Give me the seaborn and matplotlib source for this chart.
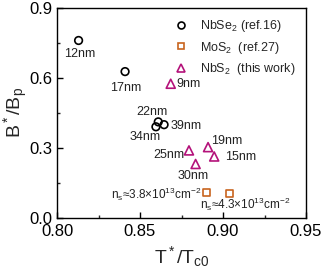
import matplotlib
matplotlib.use("Agg")
import matplotlib.pyplot as plt
import seaborn as sns
import pandas as pd
from matplotlib.lines import Line2D
from matplotlib.ticker import MultipleLocator

# ---- data ----
nbse2_x = [0.813, 0.841, 0.861, 0.8645, 0.8596]
nbse2_y = [0.759, 0.626, 0.411, 0.399, 0.390]
nbse2_lab = ["12nm", "17nm", "22nm", "39nm", "34nm"]

mos2_x = [0.8902, 0.9038]
mos2_y = [0.110, 0.106]
mos2_lab = [r"n$_\mathrm{s}$≈3.8×10$^{13}$cm$^{-2}$", r"n$_\mathrm{s}$≈4.3×10$^{13}$cm$^{-2}$"]

nbs2_x = [0.8685, 0.8795, 0.891, 0.8947, 0.8835]
nbs2_y = [0.574, 0.289, 0.303, 0.263, 0.231]
nbs2_lab = ["9nm", "25nm", "19nm", "15nm", "30nm"]

series_names = [r"NbSe$_2$ (ref.16)", r"MoS$_2$  (ref.27)", r"NbS$_2$  (this work)"]
colors = ["#000000", "#c8641e", "#b4127a"]
markers = ["o", "s", "^"]

# label offsets in pixels (dx, dy, ha, fontsize)
offsets = {
    "12nm": (1, -14, "center", 9), "17nm": (1, -16, "center", 9), "22nm": (-6, 10, "center", 9),
    "39nm": (6, -1, "left", 9), "34nm": (-11, -10, "center", 9),
    "9nm": (6, 0, "left", 9), "25nm": (-5, -5, "right", 9), "19nm": (3, 6, "left", 9),
    "15nm": (11, -1, "left", 9), "30nm": (-2, -12, "center", 9),
    mos2_lab[0]: (-5, -2, "right", 8.5), mos2_lab[1]: (16, -11, "center", 8.5),
}

sns.set_theme(style="white")
plt.rcParams["font.family"] = ["Liberation Sans", "DejaVu Sans"]
plt.rcParams["mathtext.fontset"] = "custom"
plt.rcParams["mathtext.rm"] = "Liberation Sans"
plt.rcParams["mathtext.it"] = "Liberation Sans:italic"
plt.rcParams["mathtext.default"] = "regular"

fig = plt.figure(figsize=(3.24, 2.68), dpi=100)
ax = fig.add_axes([57/324, 1-218/268, 249/324, 210.5/268])

frames = [
    pd.DataFrame({"x": nbse2_x, "y": nbse2_y, "lab": nbse2_lab}),
    pd.DataFrame({"x": mos2_x, "y": mos2_y, "lab": mos2_lab}),
    pd.DataFrame({"x": nbs2_x, "y": nbs2_y, "lab": nbs2_lab}),
]
sizes = [30, 26, 42]
for df, c, m, s in zip(frames, colors, markers, sizes):
    sns.scatterplot(data=df, x="x", y="y", ax=ax, marker=m, s=s, color=c, legend=False)
    coll = ax.collections[-1]
    coll.set_facecolor("none")
    coll.set_edgecolor(c)
    coll.set_linewidth(1.2)
    for _, r in df.iterrows():
        dx, dy, ha, fs = offsets[r["lab"]]
        ax.annotate(r["lab"], (r["x"], r["y"]), xytext=(dx, dy), textcoords="offset pixels",
                    ha=ha, va="center", fontsize=fs, color="#222222")

ax.set_xlim(0.80, 0.95)
ax.set_ylim(0.0, 0.9)
ax.xaxis.set_minor_locator(MultipleLocator(0.025))
ax.yaxis.set_minor_locator(MultipleLocator(0.15))
ax.set_xticks([0.80, 0.85, 0.90, 0.95])
ax.set_xticklabels(["0.80", "0.85", "0.90", "0.95"])
ax.set_yticks([0.0, 0.3, 0.6, 0.9])
ax.set_yticklabels(["0.0", "0.3", "0.6", "0.9"])
ax.tick_params(which="major", direction="in", length=4, width=1, labelsize=12, pad=3, colors="black")
ax.tick_params(axis="x", which="major", pad=4)
ax.tick_params(which="minor", direction="in", length=2, width=1)
ax.tick_params(axis="x", which="both", bottom=True)
ax.tick_params(axis="y", which="both", left=True)
for sp in ax.spines.values():
    sp.set_linewidth(1.0)
    sp.set_color("black")

ax.set_xlabel(r"T$^*$/T$_\mathrm{c0}$", fontsize=14, labelpad=4)
ax.set_ylabel(r"B$^*$/B$_\mathrm{p}$", fontsize=14, labelpad=0)

handles = [Line2D([], [], linestyle="none", marker=m, markersize=ms, markerfacecolor="none",
                  markeredgecolor=c, markeredgewidth=1.2)
           for m, c, ms in zip(markers, colors, [5, 4.5, 6])]
ax.legend(handles, series_names, loc="upper left", bbox_to_anchor=(0.474, 0.95),
          frameon=False, fontsize=9, handlelength=1.0, handletextpad=1.0,
          borderpad=0, borderaxespad=0, labelspacing=0.45)

fig.savefig("out.png", dpi=100)
